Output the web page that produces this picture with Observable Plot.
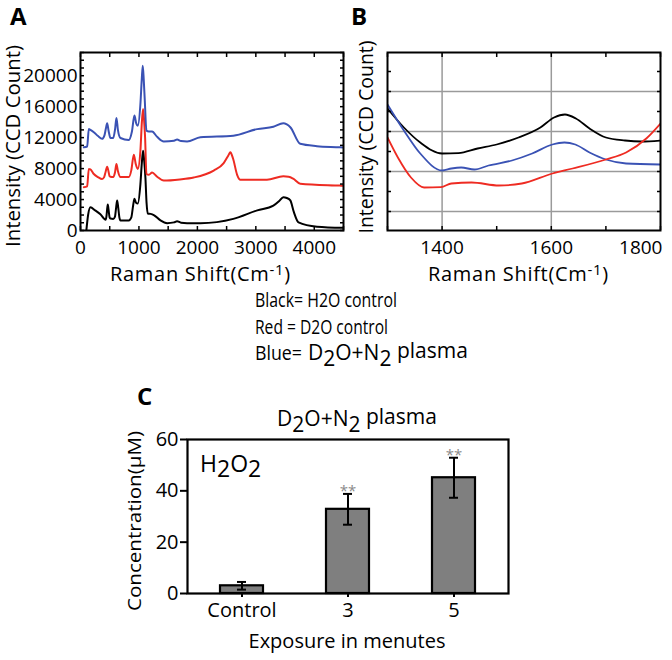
<!DOCTYPE html>
<html>
<head>
<meta charset="utf-8">
<script src="https://cdn.jsdelivr.net/npm/d3@7"></script>
<script src="https://cdn.jsdelivr.net/npm/@observablehq/plot@0.6"></script>
<style>
  body { margin: 0; background: white; }
  #root { position: relative; width: 672px; height: 660px; font-family: "Open Sans", sans-serif; overflow: hidden; }
  #root svg { position: absolute; overflow: visible; }
</style>
</head>
<body>
<div id="root"></div>
<script>
// ---------- Panel A data (Raman shift cm-1, intensity CCD count) ----------
const blackA = [[100,0],[130,2000],[170,3000],[250,2600],[340,2100],[430,1400],[445,1900],[455,2700],[467,3350],[480,2700],[498,1700],[513,1550],[560,1500],[590,1800],[610,3000],[627,3870],[645,3000],[665,1700],[684,1300],[826,1300],[870,1700],[900,3200],[923,4100],[950,3600],[980,3500],[1025,6000],[1050,8800],[1071,10300],[1090,9000],[1111,6800],[1130,3600],[1151,2200],[1200,2150],[1254,2000],[1368,1300],[1482,950],[1600,1050],[1653,1200],[1720,1000],[1823,950],[2051,950],[2615,1500],[3025,2600],[3300,3200],[3400,3800],[3470,4300],[3530,4200],[3590,3900],[3650,2400],[3730,1050],[4046,500],[4500,350]];
const redA = [[57,5600],[114,5700],[142,7950],[170,7900],[228,7300],[300,6900],[370,6650],[405,6900],[430,7600],[456,8250],[480,7600],[498,7000],[513,6950],[560,6900],[590,7500],[615,8600],[640,7700],[684,6900],[826,6900],[870,7800],[912,9800],[945,8600],[980,7950],[1025,10300],[1050,14000],[1071,15700],[1090,14000],[1105,12050],[1128,7300],[1170,7200],[1225,7500],[1311,6950],[1425,6450],[1700,6600],[1937,6850],[2279,7750],[2450,8700],[2530,9700],[2564,10100],[2610,9300],[2680,7200],[2735,6550],[3190,6550],[3470,7000],[3560,6950],[3640,6700],[3760,6050],[4440,5800],[4500,5780]];
const blueA = [[57,10750],[114,10850],[142,13100],[170,13000],[228,12700],[300,12200],[370,11850],[410,12300],[435,13200],[456,13850],[480,12900],[513,11950],[560,11950],[590,13000],[615,14550],[640,13000],[684,11950],[826,11700],[880,12800],[923,14850],[955,13800],[980,13550],[1025,16350],[1048,19500],[1065,21300],[1082,19500],[1100,16800],[1128,12900],[1170,12800],[1225,12800],[1311,12100],[1425,11500],[1600,11600],[1653,11750],[1720,11550],[1823,11500],[2051,12050],[2615,12250],[3025,13100],[3300,13400],[3470,13850],[3530,13700],[3590,13350],[3760,11200],[4046,10900],[4440,10750],[4500,10720]];
const ticksA_x = [0, 1000, 2000, 3000, 4000];
const ticksA_y = [0, 4000, 8000, 12000, 16000, 20000];

// ---------- Panel B data (zoom 1300-1800 cm-1, arbitrary units) ----------
const blackB = [[1300,5.15],[1330,4.2],[1360,3.45],[1400,2.9],[1430,2.92],[1465,3.15],[1500,3.35],[1540,3.7],[1580,4.2],[1605,4.7],[1625,4.85],[1645,4.65],[1670,4.15],[1700,3.7],[1735,3.55],[1765,3.5],[1800,3.55]];
const blueB = [[1300,5.35],[1330,4.05],[1360,2.9],[1400,2.05],[1417,2.15],[1435,2.2],[1459,2.1],[1485,2.3],[1528,2.55],[1565,2.9],[1602,3.35],[1624,3.45],[1644,3.35],[1670,2.95],[1700,2.6],[1737,2.4],[1800,2.35]];
const redB = [[1300,3.7],[1319,2.7],[1343,1.7],[1367,1.2],[1398,1.22],[1417,1.4],[1454,1.45],[1504,1.3],[1546,1.4],[1602,1.9],[1639,2.15],[1700,2.6],[1737,2.95],[1774,3.65],[1800,4.4]];
const ticksB_x = [1400, 1600];

// ---------- Panel C data (H2O2 concentration, µM) ----------
const categories = ["Control", "3", "5"];
const means = [3, 32.8, 45.1];
const errors = [1.5, 6, 7.8];
const signif = ["", "**", "**"];
const ticksC_y = [0, 20, 40, 60];

const RED = "#ee2b22", BLUE = "#3a52b4";
const root = document.getElementById("root");
const fmt = d3.format("d");
const xy = {x: d => d[0], y: d => d[1]};

// ---------- Panel A ----------
const plotA = Plot.plot({
  width: 350, height: 290,
  marginLeft: 80, marginRight: 7, marginTop: 52, marginBottom: 60,
  x: {domain: [0, 4500]}, y: {domain: [0, 23000]},
  style: {fontFamily: "Open Sans", fontSize: "19px", color: "black", background: "transparent"},
  marks: [
    Plot.line(blackA, {...xy, stroke: "black", strokeWidth: 2, curve: "monotone-x", clip: true}),
    Plot.line(redA, {...xy, stroke: RED, strokeWidth: 2, curve: "monotone-x", clip: true}),
    Plot.line(blueA, {...xy, stroke: BLUE, strokeWidth: 2, curve: "monotone-x", clip: true}),
    Plot.axisX({anchor: "bottom", ticks: d3.range(0, 4501, 500), tickSize: -4, tickFormat: () => "", label: null, strokeWidth: 1.5}),
    Plot.axisX({anchor: "top", ticks: d3.range(0, 4501, 500), tickSize: -4, tickFormat: () => "", label: null, strokeWidth: 1.5}),
    Plot.axisY({anchor: "left", ticks: d3.range(0, 23001, 1000), tickSize: -4, tickFormat: () => "", label: null, strokeWidth: 1.5}),
    Plot.axisY({anchor: "right", ticks: d3.range(0, 23001, 1000), tickSize: -4, tickFormat: () => "", label: null, strokeWidth: 1.5}),
    Plot.axisX({anchor: "bottom", ticks: ticksA_x, tickSize: 0, tickPadding: 10, tickFormat: fmt, label: null}),
    Plot.axisY({anchor: "left", ticks: ticksA_y, tickSize: 0, tickPadding: 3, tickFormat: fmt, label: null}),
    Plot.frame({stroke: "black", strokeWidth: 2})
  ]
});
plotA.style.left = "0px"; plotA.style.top = "0px";
root.appendChild(plotA);

// ---------- Panel B ----------
const plotB = Plot.plot({
  width: 327, height: 290,
  marginLeft: 42, marginRight: 12, marginTop: 52, marginBottom: 60,
  x: {domain: [1300, 1800]}, y: {domain: [-0.95, 7.95]},
  style: {fontFamily: "Open Sans", fontSize: "19px", color: "black", background: "transparent"},
  marks: [
    Plot.gridX(ticksB_x, {stroke: "#9a9a9a", strokeOpacity: 1, strokeWidth: 1.5}),
    Plot.gridY([0, 2, 4, 6], {stroke: "#9a9a9a", strokeOpacity: 1, strokeWidth: 1.5}),
    Plot.line(blackB, {...xy, stroke: "black", strokeWidth: 1.8, curve: "monotone-x", clip: true}),
    Plot.line(blueB, {...xy, stroke: BLUE, strokeWidth: 1.8, curve: "monotone-x", clip: true}),
    Plot.line(redB, {...xy, stroke: RED, strokeWidth: 1.8, curve: "monotone-x", clip: true}),
    Plot.axisX({anchor: "bottom", ticks: d3.range(1300, 1801, 100), tickSize: -4, tickFormat: () => "", label: null, strokeWidth: 1.5}),
    Plot.axisX({anchor: "top", ticks: d3.range(1300, 1801, 100), tickSize: -4, tickFormat: () => "", label: null, strokeWidth: 1.5}),
    Plot.axisY({anchor: "left", ticks: d3.range(0, 8), tickSize: -4, tickFormat: () => "", label: null, strokeWidth: 1.5}),
    Plot.axisY({anchor: "right", ticks: d3.range(0, 8), tickSize: -4, tickFormat: () => "", label: null, strokeWidth: 1.5}),
    Plot.axisX({anchor: "bottom", ticks: ticksB_x, tickSize: 0, tickPadding: 10, tickFormat: fmt, label: null}),
    Plot.axisX({anchor: "bottom", ticks: [1800], tickSize: 0, tickPadding: 10, tickFormat: fmt, textAnchor: "end", dx: 2, label: null}),
    Plot.frame({stroke: "black", strokeWidth: 2})
  ]
});
plotB.style.left = "345px"; plotB.style.top = "0px";
root.appendChild(plotB);

// ---------- Panel C ----------
const dataC = categories.map((c, i) => ({cat: c, mean: means[i], err: errors[i], sig: signif[i]}));
const plotC = Plot.plot({
  width: 420, height: 250,
  marginLeft: 87, marginRight: 12, marginTop: 49, marginBottom: 47,
  x: {domain: categories, paddingInner: 0.59, paddingOuter: 0.3},
  y: {domain: [0, 60]},
  style: {fontFamily: "Open Sans", fontSize: "20px", color: "black", background: "transparent"},
  marks: [
    Plot.barY(dataC, {x: "cat", y: "mean", fill: "#7f7f7f", stroke: "black", strokeWidth: 2.2}),
    Plot.ruleX(dataC, {x: "cat", y1: d => d.mean - d.err, y2: d => d.mean + d.err, stroke: "black", strokeWidth: 2}),
    Plot.tickY(dataC, {x: "cat", y: d => d.mean + d.err, insetLeft: 17, insetRight: 17, stroke: "black", strokeWidth: 2}),
    Plot.tickY(dataC, {x: "cat", y: d => d.mean - d.err, insetLeft: 17, insetRight: 17, stroke: "black", strokeWidth: 2}),
    Plot.text(dataC, {x: "cat", y: d => d.mean + d.err, text: "sig", dy: -3, fill: "#8a8a8a", fontSize: 15}),
    Plot.axisY({anchor: "left", ticks: ticksC_y, tickSize: 7, tickPadding: 2, tickFormat: fmt, label: null, strokeWidth: 2}),
    Plot.axisX({anchor: "bottom", tickSize: 4, tickPadding: 5, label: null, strokeWidth: 2}),
    Plot.frame({stroke: "black", strokeWidth: 2.2})
  ]
});
plotC.style.left = "100px"; plotC.style.top = "390px";
root.appendChild(plotC);

// ---------- Text annotations ----------
const ov = d3.select(root).append("svg")
  .attr("width", 672).attr("height", 660)
  .style("left", "0px").style("top", "0px")
  .attr("font-family", "Open Sans").attr("fill", "black");

function label(x, y, txt, size, opts = {}) {
  const t = ov.append("text").attr("x", x).attr("y", y).attr("font-size", size).text(txt);
  if (opts.bold) t.attr("font-weight", "bold");
  if (opts.anchor) t.attr("text-anchor", opts.anchor);
  if (opts.len) t.attr("textLength", opts.len).attr("lengthAdjust", "spacingAndGlyphs");
  if (opts.rot) t.attr("transform", `rotate(-90,${x},${y})`);
  return t;
}
// rich text: parts [[text, dy, fontSize]]
function rich(x, y, parts, size, anchor, spacing) {
  const t = ov.append("text").attr("x", x).attr("y", y).attr("font-size", size);
  if (anchor) t.attr("text-anchor", anchor);
  if (spacing) t.attr("letter-spacing", spacing);
  parts.forEach(([s, dy, fs]) => {
    const ts = t.append("tspan").attr("dy", dy).text(s);
    if (fs) ts.attr("font-size", fs);
  });
  return t;
}

label(10, 25, "A", 24, {bold: true});
label(351, 25, "B", 24, {bold: true});
label(137, 405, "C", 24, {bold: true});

label(20, 146, "Intensity (CCD Count)", 20, {anchor: "middle", rot: true, len: 202});
label(373, 137, "Intensity (CCD Count)", 20, {anchor: "middle", rot: true, len: 193});

rich(110, 281, [["Raman Shift(Cm", 0], ["-1", -6, 15], [")", 6]], 20, null, 0.7);
rich(428, 281, [["Raman Shift(Cm", 0], ["-1", -6, 15], [")", 6]], 20, null, 0.7);

label(255, 307, "Black= H2O control", 20, {len: 142});
label(255, 334, "Red = D2O control", 20, {len: 133});
label(255, 360, "Blue=", 20, {len: 47});
rich(308, 360, [["D", 0], ["2", 6], ["O+N", -6], ["2", 6], [" plasma", -8]], 21);

rich(357, 426, [["D", 0], ["2", 6], ["O+N", -6], ["2", 6], [" plasma", -8]], 21, "middle");
rich(200, 472, [["H", 0], ["2", 5], ["O", -5], ["2", 5]], 23);

label(141, 521, "Concentration(\u03bcM)", 19, {anchor: "middle", rot: true, len: 180});
label(347, 648, "Exposure in menutes", 20, {anchor: "middle"});
</script>
</body>
</html>
